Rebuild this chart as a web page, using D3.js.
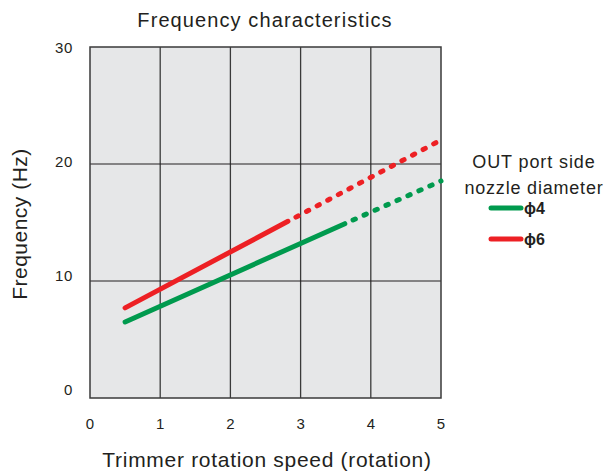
<!DOCTYPE html>
<html><head><meta charset="utf-8">
<script src="https://cdn.jsdelivr.net/npm/d3@7"></script>
<style>body{margin:0;background:#fff}svg{display:block}text{font-family:"Liberation Sans",Arial,sans-serif;fill:#231f20}</style>
</head><body><svg id="c" width="605" height="472"></svg>
<script>
const xTicks = [0,1,2,3,4,5];
const yTicks = [0,10,20,30];
const seriesNames = ["ϕ4","ϕ6"];
const seriesColors = ["#009a4e","#ed2024"];
// [x, y] measured points: solid segment then dotted extension
const phi4Solid = [[0.5,6.5],[3.63,14.9]];
const phi4Dotted = [[3.63,14.9],[5,18.55]];
const phi6Solid = [[0.5,7.7],[2.82,15.1]];
const phi6Dotted = [[2.82,15.1],[5,22.05]];

const svg = d3.select("#c");
const m = {l:90,t:47,r:441,b:398};
const x = d3.scaleLinear().domain([0,5]).range([m.l,m.r]);
const y = d3.scaleLinear().domain([0,30]).range([m.b,m.t]);
// y tick labels in the original sit on a slightly compressed ladder
const yLab = d3.scaleLinear().domain([0,30]).range([m.b-3,m.t+6]);

svg.append("rect").attr("x",m.l).attr("y",m.t).attr("width",m.r-m.l).attr("height",m.b-m.t).attr("fill","#e6e7e8");
// grid
svg.append("g").selectAll("line").data(xTicks.slice(1,-1)).join("line")
  .attr("x1",d=>x(d)).attr("x2",d=>x(d)).attr("y1",m.t).attr("y2",m.b)
  .attr("stroke","#3a3a3a").attr("stroke-width",1.3);
svg.append("g").selectAll("line").data(yTicks.slice(1,-1)).join("line")
  .attr("x1",m.l).attr("x2",m.r).attr("y1",d=>y(d)).attr("y2",d=>y(d))
  .attr("stroke","#231f20").attr("stroke-width",1);
svg.append("rect").attr("x",m.l).attr("y",m.t).attr("width",m.r-m.l).attr("height",m.b-m.t)
  .attr("fill","none").attr("stroke","#3a3a3a").attr("stroke-width",1.5);

// tick labels
svg.append("g").selectAll("text").data(xTicks).join("text")
  .attr("x",d=>x(d)).attr("y",429).attr("text-anchor","middle").attr("font-size",15).text(d=>d);
svg.append("g").selectAll("text").data(yTicks).join("text")
  .attr("x",73).attr("y",d=>yLab(d)).attr("text-anchor","end").attr("font-size",15)
  .attr("letter-spacing",0.6).text(d=>d);

// titles
svg.append("text").attr("x",265).attr("y",27).attr("text-anchor","middle").attr("font-size",20)
  .attr("letter-spacing",1.1).text("Frequency characteristics");
svg.append("text").attr("x",267).attr("y",467).attr("text-anchor","middle").attr("font-size",21)
  .attr("letter-spacing",0.7).text("Trimmer rotation speed (rotation)");
svg.append("text").attr("transform","translate(27,224) rotate(-90)").attr("text-anchor","middle").attr("font-size",21)
  .attr("letter-spacing",0.5).text("Frequency (Hz)");

// lines
const line = d3.line().x(d=>x(d[0])).y(d=>y(d[1]));
const series = [[phi4Solid,phi4Dotted],[phi6Solid,phi6Dotted]];
series.forEach((s,i)=>{
  svg.append("path").attr("d",line(s[0])).attr("fill","none").attr("stroke",seriesColors[i])
    .attr("stroke-width",5).attr("stroke-linecap","round");
  svg.append("path").attr("d",line(s[1])).attr("fill","none").attr("stroke",seriesColors[i])
    .attr("stroke-width",5).attr("stroke-linecap","round").attr("stroke-dasharray","2.5 9.5").attr("stroke-dashoffset",-9);
});

// legend
svg.append("text").attr("x",534).attr("y",168).attr("text-anchor","middle").attr("font-size",18)
  .attr("letter-spacing",0.9).text("OUT port side");
svg.append("text").attr("x",534).attr("y",194).attr("text-anchor","middle").attr("font-size",18)
  .attr("letter-spacing",0.8).text("nozzle diameter");
seriesNames.forEach((n,i)=>{
  const yy = 208 + i*31;
  svg.append("line").attr("x1",491).attr("x2",521).attr("y1",yy).attr("y2",yy)
    .attr("stroke",seriesColors[i]).attr("stroke-width",5).attr("stroke-linecap","round");
  svg.append("text").attr("x",524).attr("y",yy+6).attr("font-size",16).attr("font-weight","bold").text(n);
});
</script></body></html>
